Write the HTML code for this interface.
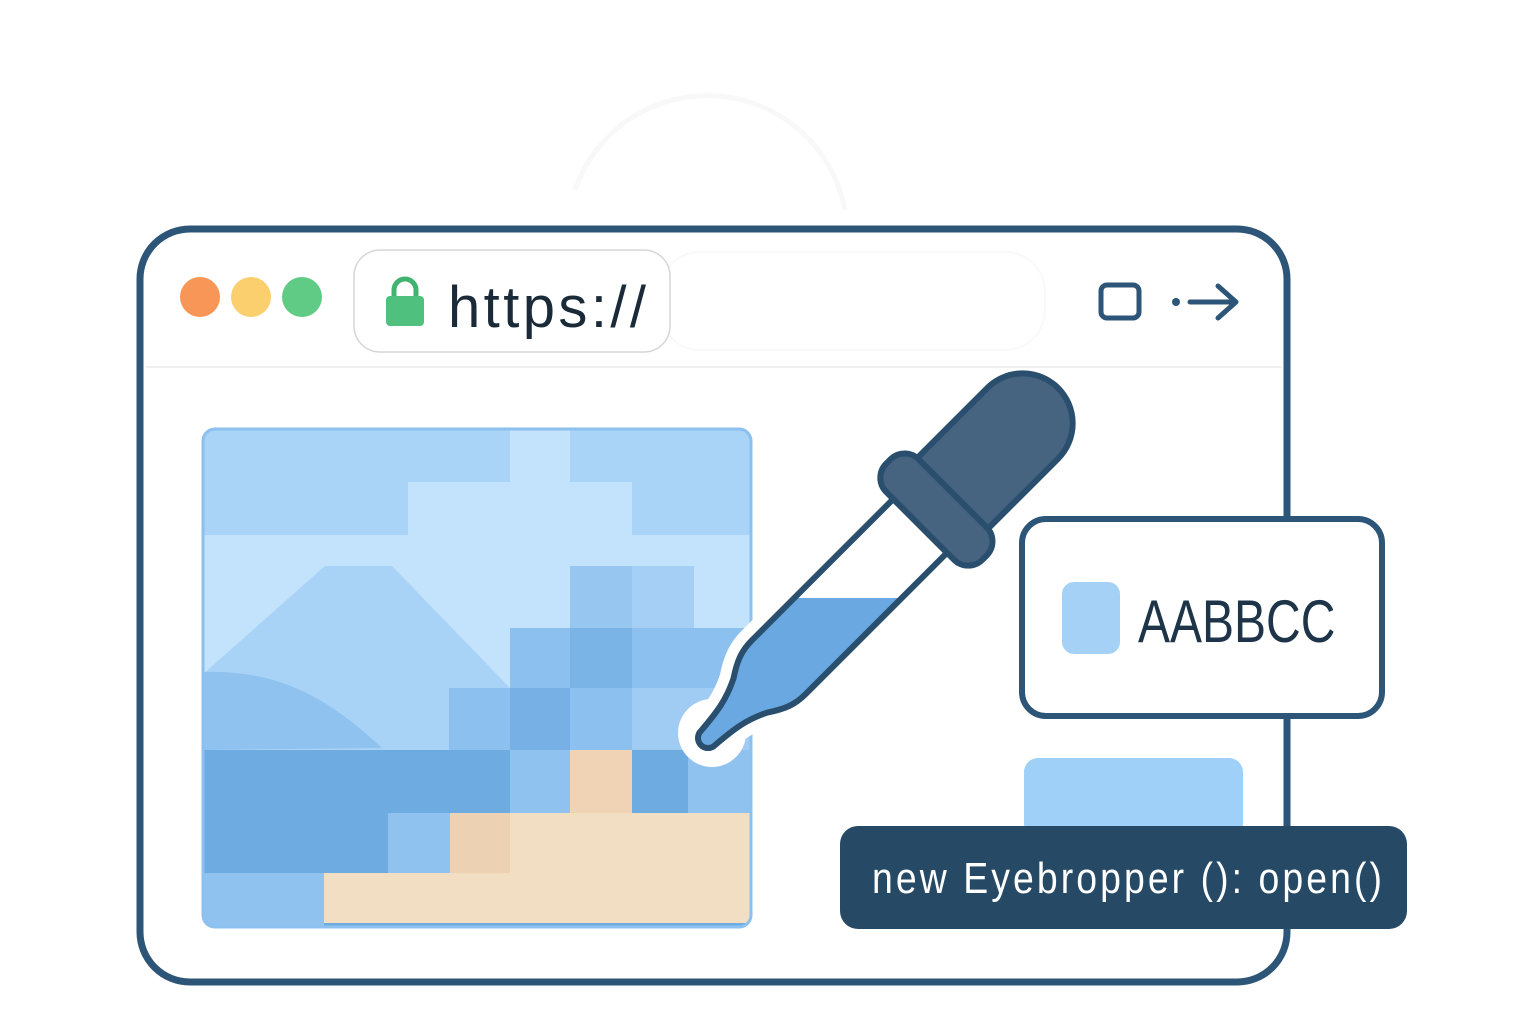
<!DOCTYPE html>
<html><head><meta charset="utf-8"><style>html,body{margin:0;padding:0;background:#fff}svg{display:block}</style></head>
<body>
<svg width="1536" height="1024" viewBox="0 0 1536 1024" xmlns="http://www.w3.org/2000/svg">
<defs>
<clipPath id="img"><rect x="202" y="428" width="550" height="500" rx="12"/></clipPath>
<clipPath id="tubeclip"><path transform="translate(708,738) rotate(-45)" d="M0,-10 C25,-12 40,-14 60,-24 C75,-34 85,-38 100,-38 L300,-38 L300,38 L100,38 C85,38 75,34 60,24 C40,14 25,12 0,10 A10,10 0 0 1 0,-10 Z"/></clipPath>
</defs>
<path d="M575,190 A140,140 0 0 1 845,210" fill="none" stroke="#f8f8f8" stroke-width="5"/>
<rect x="140" y="229" width="1147" height="753" rx="50" fill="#fff" stroke="#2d5577" stroke-width="7"/>
<line x1="146" y1="367" x2="1282" y2="367" stroke="#f0f0f0" stroke-width="2"/>
<circle cx="200" cy="297" r="20" fill="#f79657"/>
<circle cx="251" cy="297" r="20" fill="#fbcf6e"/>
<circle cx="302" cy="297" r="20" fill="#5fcb85"/>
<rect x="660" y="252" width="385" height="98" rx="40" fill="none" stroke="#f9f9f9" stroke-width="2"/>
<rect x="354" y="250" width="316" height="102" rx="26" fill="#fff" stroke="#d6d6d6" stroke-width="1.5"/>
<path d="M394,298 v-8 a11,11 0 0 1 22,0 v8" fill="none" stroke="#3fb36f" stroke-width="5"/>
<rect x="386" y="296" width="38" height="30" rx="4" fill="#4fc07d"/>
<text x="448" y="327" font-family="Liberation Sans, sans-serif" font-size="58" fill="#1a2a38" textLength="198">https://</text>
<rect x="1101" y="285" width="38" height="33" rx="6" fill="none" stroke="#2d5577" stroke-width="5"/>
<circle cx="1176" cy="302" r="4" fill="#2d5577"/>
<path d="M1190,302 H1234 M1218,286 L1236,302 L1218,318" fill="none" stroke="#2d5577" stroke-width="5" stroke-linecap="round" stroke-linejoin="round"/>
<g clip-path="url(#img)">
<rect x="202" y="428" width="550" height="500" fill="#a9d4f7"/>
<rect x="510" y="428" width="60" height="60" fill="#c3e2fb"/>
<rect x="408" y="482" width="224" height="60" fill="#c3e2fb"/>
<rect x="202" y="535" width="550" height="215" fill="#c3e2fb"/>
<path d="M202,675 L325,566 L392,566 L510,688 L510,750 L202,750 Z" fill="#a8d3f6"/>
<rect x="570" y="566" width="124" height="62" fill="#97c7f0"/>
<rect x="632" y="566" width="62" height="62" fill="#a5cff4"/>
<rect x="510" y="628" width="242" height="60" fill="#8cc0ee"/>
<rect x="570" y="628" width="62" height="60" fill="#7ab3e6"/>
<rect x="449" y="688" width="303" height="62" fill="#8cc0ee"/>
<rect x="510" y="688" width="60" height="62" fill="#77b0e4"/>
<rect x="632" y="688" width="120" height="62" fill="#a0cbf2"/>
<path d="M202,672 C270,670 320,690 382,748 L202,750 Z" fill="#8fc2ef"/>
<rect x="202" y="750" width="550" height="178" fill="#6eabe0"/>
<rect x="510" y="750" width="60" height="63" fill="#8fc2ee"/>
<rect x="570" y="750" width="62" height="63" fill="#f0d3b5"/>
<rect x="688" y="750" width="64" height="63" fill="#8fc2ee"/>
<rect x="388" y="813" width="62" height="60" fill="#8fc2ee"/>
<rect x="450" y="813" width="300" height="110" fill="#f2dec3"/>
<rect x="450" y="813" width="60" height="60" fill="#edd1b3"/>
<rect x="202" y="873" width="122" height="55" fill="#8fc2ee"/>
<rect x="324" y="873" width="426" height="50" fill="#f2dec3"/>
</g>
<rect x="203" y="429" width="548" height="498" rx="12" fill="none" stroke="#8cc0ee" stroke-width="3"/>
<circle cx="712" cy="733" r="34" fill="#fff"/>
<g transform="translate(708,738) rotate(-45)">
<path d="M0,-10 C25,-12 40,-14 60,-24 C75,-34 85,-38 100,-38 L300,-38 L300,38 L100,38 C85,38 75,34 60,24 C40,14 25,12 0,10 A10,10 0 0 1 0,-10 Z" fill="#fff" stroke="#fff" stroke-width="28"/>
</g>
<g clip-path="url(#tubeclip)"><rect x="600" y="598" width="400" height="200" fill="#6aa8e1"/></g>
<g transform="translate(708,738) rotate(-45)" stroke="#2a4f6e" stroke-width="6" stroke-linejoin="round">
<path d="M0,-10 C25,-12 40,-14 60,-24 C75,-34 85,-38 100,-38 L300,-38 L300,38 L100,38 C85,38 75,34 60,24 C40,14 25,12 0,10 A10,10 0 0 1 0,-10 Z" fill="none"/>
<path d="M335,-50 L445,-50 A50,50 0 0 1 445,50 L335,50 Z" fill="#46637f"/>
<rect x="300" y="-68" width="46" height="136" rx="20" fill="#46637f"/>
</g>
<rect x="1022" y="519" width="360" height="197" rx="24" fill="#fff" stroke="#2d5577" stroke-width="6"/>
<rect x="1062" y="582" width="58" height="72" rx="12" fill="#a6d1f6"/>
<text transform="translate(1138,642) scale(0.8,1)" x="0" y="0" font-family="Liberation Sans, sans-serif" font-size="60" fill="#1e3448">AABBCC</text>
<rect x="1024" y="758" width="219" height="80" rx="14" fill="#9fd0f7"/>
<rect x="840" y="826" width="567" height="103" rx="18" fill="#264a66"/>
<text transform="translate(872,893) scale(0.85,1)" x="0" y="0" font-family="Liberation Sans, sans-serif" font-size="44" fill="#fff" textLength="600">new Eyebropper (): open()</text>
</svg>
</body></html>
